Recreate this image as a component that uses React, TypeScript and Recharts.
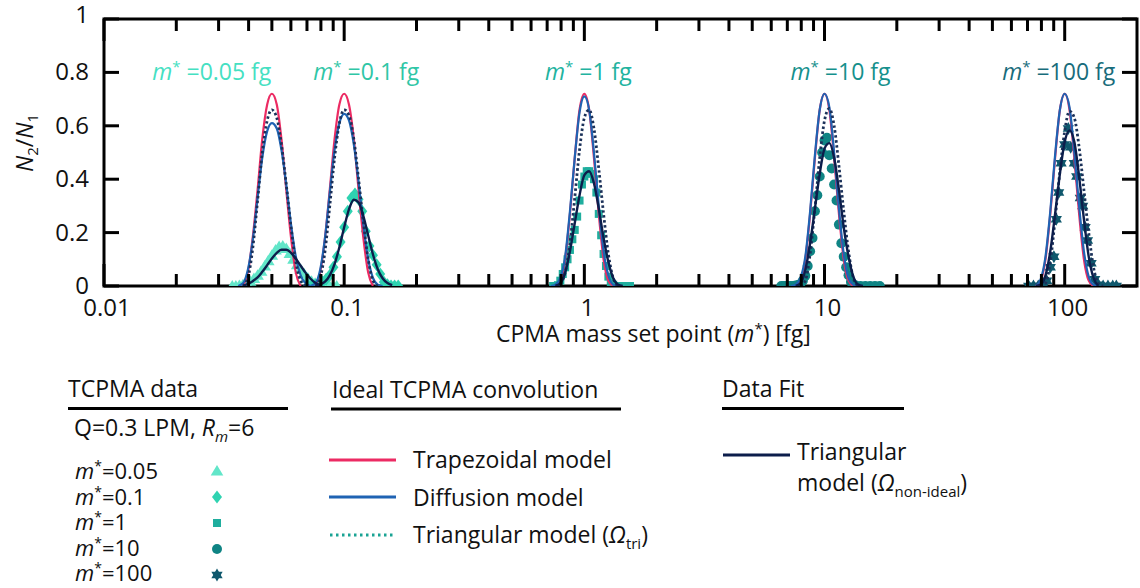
import React from 'react';
import { ComposedChart, Line, Scatter, XAxis, YAxis, ReferenceArea, ReferenceDot } from 'recharts';

const FONT = '"Open Sans", "Noto Sans", "DejaVu Sans", sans-serif';
const FS = 23;
const PLOT = { left: 104, right: 1137, top: 19, bottom: 286 };
const CHART_H = 350;

// ---------- axes ----------
const X_MAJOR = [0.01, 0.1, 1, 10, 100];
const X_MAJOR_LABELS = ['0.01', '0.1', '1', '10', '100'];
const X_MINOR = [0.02, 0.03, 0.04, 0.05, 0.06, 0.07, 0.08, 0.09, 0.2, 0.3, 0.4, 0.5, 0.6, 0.7, 0.8, 0.9, 2, 3, 4, 5, 6, 7, 8, 9, 20, 30, 40, 50, 60, 70, 80, 90];
const X_TICKS = [...X_MAJOR, ...X_MINOR].sort((a, b) => a - b);
const Y_TICKS = [0, 0.2, 0.4, 0.6, 0.8, 1];
const Y_TICK_LABELS = ['0', '0.2', '0.4', '0.6', '0.8', '1'];

// ---------- model curves (x grids per set point) ----------
const GRID_005 = [0.0346, 0.0362, 0.0379, 0.0397, 0.0416, 0.0436, 0.0456, 0.0478, 0.05, 0.0524, 0.0548, 0.0574, 0.0601, 0.0629, 0.0659, 0.069, 0.0723, 0.0757, 0.0792];
const GRID_01 = [0.0692, 0.0724, 0.0759, 0.0794, 0.0832, 0.0871, 0.0912, 0.0955, 0.1, 0.1047, 0.1097, 0.1148, 0.1202, 0.1259, 0.1318, 0.138, 0.1445, 0.1514, 0.1585];
const GRID_1 = [0.6918, 0.7244, 0.7586, 0.7943, 0.8318, 0.871, 0.912, 0.955, 1, 1.0471, 1.0965, 1.1482, 1.2023, 1.2589, 1.3183, 1.3804, 1.4454, 1.5136, 1.5849];
const GRID_10 = [6.918, 7.244, 7.586, 7.943, 8.318, 8.71, 9.12, 9.55, 10, 10.471, 10.965, 11.482, 12.023, 12.589, 13.183, 13.804, 14.454, 15.136, 15.849];
const GRID_100 = [69.18, 72.44, 75.86, 79.43, 83.18, 87.1, 91.2, 95.5, 100, 104.71, 109.65, 114.82, 120.23, 125.89, 131.83, 138.04, 144.54, 151.36, 158.49];

const TRAP_005 = [null, null, 0, 0.05, 0.18, 0.36, 0.55, 0.68, 0.72, 0.68, 0.55, 0.36, 0.18, 0.05, 0, null, null, null, null];
const DIFF_005 = [null, 0, 0.01, 0.06, 0.17, 0.33, 0.48, 0.58, 0.61, 0.59, 0.51, 0.38, 0.23, 0.11, 0.04, 0.01, 0, null, null];
const TRI_005 = [null, null, 0, 0.03, 0.14, 0.32, 0.5, 0.62, 0.66, 0.63, 0.53, 0.38, 0.22, 0.09, 0.02, 0, null, null, null];
const FIT_005 = [null, null, 0, 0.008, 0.018, 0.032, 0.053, 0.078, 0.103, 0.124, 0.136, 0.136, 0.124, 0.102, 0.076, 0.05, 0.028, 0.012, 0.004];

const TRAP_01 = [null, null, 0, 0.05, 0.18, 0.36, 0.55, 0.68, 0.72, 0.68, 0.55, 0.36, 0.18, 0.05, 0, null, null, null, null];
const DIFF_01 = [null, 0, 0.01, 0.06, 0.18, 0.35, 0.51, 0.61, 0.645, 0.62, 0.53, 0.39, 0.23, 0.1, 0.03, 0.005, 0, null, null];
const TRI_01 = [null, null, 0, 0.03, 0.13, 0.3, 0.48, 0.61, 0.66, 0.64, 0.55, 0.4, 0.24, 0.1, 0.02, 0, null, null, null];
const FIT_01 = [null, null, 0, 0.005, 0.016, 0.04, 0.082, 0.145, 0.22, 0.287, 0.323, 0.313, 0.262, 0.189, 0.118, 0.063, 0.029, 0.011, 0.003];

const TRAP_1 = [null, null, 0, 0.02, 0.1, 0.27, 0.48, 0.66, 0.72, 0.66, 0.48, 0.27, 0.1, 0.02, 0, null, null, null, null];
const DIFF_1 = [null, 0, 0.005, 0.03, 0.11, 0.28, 0.48, 0.65, 0.71, 0.66, 0.5, 0.3, 0.13, 0.04, 0.005, 0, null, null, null];
const TRI_1 = [null, null, 0, 0.01, 0.05, 0.16, 0.33, 0.51, 0.63, 0.66, 0.59, 0.44, 0.27, 0.12, 0.03, 0, null, null, null];
const FIT_1 = [null, null, 0, 0.01, 0.05, 0.13, 0.235, 0.34, 0.415, 0.43, 0.385, 0.29, 0.18, 0.09, 0.03, 0.005, 0, null, null];

const TRAP_10 = [null, null, 0, 0.02, 0.1, 0.27, 0.48, 0.66, 0.72, 0.66, 0.48, 0.27, 0.1, 0.02, 0, null, null, null, null];
const DIFF_10 = [null, 0, 0.005, 0.03, 0.11, 0.28, 0.49, 0.66, 0.72, 0.67, 0.5, 0.29, 0.12, 0.03, 0.005, 0, null, null, null];
const TRI_10 = [null, null, null, 0, 0.02, 0.12, 0.29, 0.48, 0.62, 0.665, 0.6, 0.45, 0.28, 0.13, 0.03, 0, null, null, null];
const FIT_10 = [null, null, 0, 0.01, 0.06, 0.16, 0.29, 0.42, 0.515, 0.535, 0.48, 0.36, 0.22, 0.11, 0.035, 0.005, 0, null, null];

const TRAP_100 = [null, null, 0, 0.02, 0.1, 0.27, 0.48, 0.66, 0.72, 0.66, 0.48, 0.27, 0.1, 0.02, 0, null, null, null, null];
const DIFF_100 = [null, null, 0, 0.025, 0.11, 0.28, 0.49, 0.66, 0.72, 0.67, 0.5, 0.3, 0.13, 0.035, 0.005, 0, null, null, null];
const TRI_100 = [null, null, null, 0, 0.01, 0.09, 0.25, 0.43, 0.58, 0.655, 0.63, 0.52, 0.36, 0.2, 0.07, 0.01, 0, null, null];
const FIT_100 = [null, null, 0, 0.005, 0.04, 0.13, 0.27, 0.42, 0.54, 0.583, 0.54, 0.41, 0.25, 0.11, 0.03, 0, null, null, null];

// ---------- TCPMA measured data ----------
const DATA_005_M = [0.0342, 0.0354, 0.0366, 0.0379, 0.0393, 0.0406, 0.0421, 0.0436, 0.0451, 0.0467, 0.0483, 0.05, 0.0518, 0.0536, 0.0555, 0.0574, 0.0594, 0.0615, 0.0637, 0.0659, 0.0682, 0.0706, 0.0731, 0.0757, 0.0783, 0.0811, 0.0839, 0.0869, 0.0899, 0.0931];
const DATA_005_N = [0, 0, 0.002, 0.005, 0.01, 0.018, 0.028, 0.04, 0.055, 0.075, 0.095, 0.115, 0.135, 0.148, 0.15, 0.14, 0.122, 0.1, 0.08, 0.062, 0.045, 0.03, 0.018, 0.01, 0.005, 0.002, 0, 0, 0, 0];

const DATA_01_M = [0.0708, 0.0733, 0.0759, 0.0785, 0.0813, 0.0841, 0.0871, 0.0902, 0.0933, 0.0966, 0.1, 0.1035, 0.1072, 0.1109, 0.1148, 0.1189, 0.123, 0.1274, 0.1318, 0.1365, 0.1413, 0.1462, 0.1514, 0.1567, 0.1622, 0.1679];
const DATA_01_N = [0, 0, 0.003, 0.008, 0.015, 0.025, 0.04, 0.07, 0.11, 0.165, 0.22, 0.28, 0.33, 0.345, 0.325, 0.28, 0.205, 0.15, 0.115, 0.08, 0.045, 0.015, 0.005, 0, 0, 0];

const DATA_1_M = [0.7413, 0.7586, 0.7762, 0.7943, 0.8128, 0.8318, 0.8511, 0.871, 0.8913, 0.912, 0.9333, 0.955, 0.9772, 1, 1.0233, 1.0471, 1.0715, 1.0965, 1.122, 1.1482, 1.1749, 1.2023, 1.2303, 1.2589, 1.2882, 1.3183, 1.349, 1.4125, 1.4791, 1.5488];
const DATA_1_N = [0, 0, 0.003, 0.02, 0.045, 0.07, 0.1, 0.135, 0.175, 0.21, 0.26, 0.32, 0.38, 0.41, 0.43, 0.43, 0.42, 0.4, 0.35, 0.27, 0.19, 0.12, 0.075, 0.035, 0.015, 0.005, 0, 0, 0, 0];

const DATA_10_M = [6.607, 6.761, 6.918, 7.079, 7.244, 7.413, 7.586, 7.762, 7.943, 8.128, 8.318, 8.511, 8.71, 8.913, 9.12, 9.333, 9.55, 9.772, 10, 10.233, 10.471, 10.715, 10.965, 11.22, 11.482, 11.749, 12.023, 12.303, 12.589, 12.882, 13.183, 13.49, 14.125, 14.791, 15.488, 16.218, 16.982];
const DATA_10_N = [0, 0, 0, 0, 0, 0, 0.002, 0.004, 0.008, 0.02, 0.038, 0.075, 0.13, 0.18, 0.28, 0.34, 0.41, 0.5, 0.545, 0.555, 0.49, 0.44, 0.38, 0.32, 0.23, 0.16, 0.11, 0.07, 0.04, 0.015, 0.006, 0.002, 0, 0, 0, 0, 0];

const DATA_100_M = [70.79, 74.13, 77.62, 81.28, 84.14, 87.1, 90.16, 92.26, 94.41, 96.61, 100, 103.51, 105.93, 109.65, 112.2, 116.14, 118.85, 121.62, 124.45, 128.82, 133.35, 138.04, 144.54, 151.36, 158.49, 164.06];
const DATA_100_N = [0, 0, 0, 0.003, 0.02, 0.07, 0.11, 0.25, 0.35, 0.46, 0.53, 0.59, 0.52, 0.46, 0.41, 0.33, 0.3, 0.22, 0.17, 0.085, 0.025, 0.005, 0, 0, 0, 0];

// ---------- annotations ----------
const SET_POINTS = ['0.05', '0.1', '1', '10', '100'];
const ANNOT_M = [0.0281, 0.1236, 1.04, 11.66, 94.4];
const ANNOT_N = 0.8;

// ---------- colours ----------
const PINK = '#ec2b63';
const BLUE = '#1f63b3';
const TRI_C = '#1b3159';
const FIT_C = '#0c1d4b';
const TRI_LEGEND = '#1aa394';
const MARKER_COLORS = ['#62e6c9', '#2fd3b1', '#1fae9e', '#0f8484', '#0f586d'];
const LABEL_COLORS = ['#45e0c2', '#2fc6a6', '#22b39f', '#15908c', '#186c7b'];
const SHAPES = ['triangle', 'diamond', 'square', 'circle', 'star'];

const zip = (xs: number[], ys: (number | null)[]) =>
  xs.map((m, i) => ({ m, v: ys[i] })).filter((p) => p.v !== null && p.v !== undefined);

const PEAKS = [
  { grid: GRID_005, trap: TRAP_005, diff: DIFF_005, tri: TRI_005, fit: FIT_005 },
  { grid: GRID_01, trap: TRAP_01, diff: DIFF_01, tri: TRI_01, fit: FIT_01 },
  { grid: GRID_1, trap: TRAP_1, diff: DIFF_1, tri: TRI_1, fit: FIT_1 },
  { grid: GRID_10, trap: TRAP_10, diff: DIFF_10, tri: TRI_10, fit: FIT_10 },
  { grid: GRID_100, trap: TRAP_100, diff: DIFF_100, tri: TRI_100, fit: FIT_100 },
];
const DATASETS = [
  zip(DATA_005_M, DATA_005_N),
  zip(DATA_01_M, DATA_01_N),
  zip(DATA_1_M, DATA_1_N),
  zip(DATA_10_M, DATA_10_N),
  zip(DATA_100_M, DATA_100_N),
];

function Marker({ kind, cx, cy, color, s = 1 }: any) {
  if (kind === 'triangle') {
    return <polygon points={`${cx},${cy - 6 * s} ${cx + 6.3 * s},${cy + 4.5 * s} ${cx - 6.3 * s},${cy + 4.5 * s}`} fill={color} />;
  }
  if (kind === 'diamond') {
    return <polygon points={`${cx},${cy - 6.5 * s} ${cx + 5 * s},${cy} ${cx},${cy + 6.5 * s} ${cx - 5 * s},${cy}`} fill={color} />;
  }
  if (kind === 'square') {
    return <rect x={cx - 4 * s} y={cy - 4 * s} width={8 * s} height={8 * s} fill={color} />;
  }
  if (kind === 'circle') {
    return <circle cx={cx} cy={cy} r={5 * s} fill={color} />;
  }
  const r = 6.5 * s;
  const a = 0.866 * r;
  return (
    <g fill={color}>
      <polygon points={`${cx},${cy - r} ${cx + a},${cy + r / 2} ${cx - a},${cy + r / 2}`} />
      <polygon points={`${cx},${cy + r} ${cx + a},${cy - r / 2} ${cx - a},${cy - r / 2}`} />
    </g>
  );
}

function XTick(props: any) {
  const { x, payload } = props;
  const v = payload.value;
  const idx = X_MAJOR.findIndex((t) => Math.abs(t - v) / t < 1e-6);
  const major = idx >= 0;
  const len = major ? 22 : 12;
  return (
    <g>
      <line x1={x} x2={x} y1={PLOT.bottom} y2={PLOT.bottom - len} stroke="#000" strokeWidth={3} />
      <line x1={x} x2={x} y1={PLOT.top} y2={PLOT.top + len} stroke="#000" strokeWidth={3} />
      {major && (
        <text x={x + 3} y={PLOT.bottom + 30} textAnchor="middle" fontSize={24} fontFamily={FONT} fill="#111">
          {X_MAJOR_LABELS[idx]}
        </text>
      )}
    </g>
  );
}

function YTick(props: any) {
  const { y, payload } = props;
  const idx = Y_TICKS.findIndex((t) => Math.abs(t - payload.value) < 1e-9);
  return (
    <g>
      <line x1={PLOT.left} x2={PLOT.left + 15} y1={y} y2={y} stroke="#000" strokeWidth={3} />
      <line x1={PLOT.right} x2={PLOT.right - 15} y1={y} y2={y} stroke="#000" strokeWidth={3} />
      <text x={PLOT.left - 15} y={idx === 5 ? y + 4 : y + 8} textAnchor="end" fontSize={24} fontFamily={FONT} fill="#111">
        {Y_TICK_LABELS[idx]}
      </text>
    </g>
  );
}

function YTitle() {
  return (
    <text transform="translate(33,143) rotate(-90)" textAnchor="middle" fontSize={FS} fontFamily={FONT} fill="#111">
      <tspan fontStyle="italic">N</tspan>
      <tspan fontSize={15} dy={5}>2</tspan>
      <tspan dy={-5}>/</tspan>
      <tspan fontStyle="italic">N</tspan>
      <tspan fontSize={15} dy={5}>1</tspan>
    </text>
  );
}

function XTitle() {
  return (
    <text x={496} y={342} textAnchor="start" fontSize={FS} fontFamily={FONT} fill="#111">
      <tspan>CPMA mass set point (</tspan>
      <tspan fontStyle="italic">m</tspan>
      <tspan fontSize={15} dy={-8}>*</tspan>
      <tspan dy={8}>) [fg]</tspan>
    </text>
  );
}

function LegendSvg() {
  const t: any = { fontFamily: FONT, fontSize: FS, fill: '#111' };
  const t2: any = { fontFamily: FONT, fontSize: 22, fill: '#111' };
  return (
    <svg width={1140} height={588} style={{ position: 'absolute', left: 0, top: 0, pointerEvents: 'none' }}>
      {/* TCPMA data */}
      <text x={68} y={397} {...t}>TCPMA data</text>
      <line x1={68} x2={288} y1={408.5} y2={408.5} stroke="#000" strokeWidth={3} />
      <text x={74} y={436} {...t}>
        <tspan>Q=0.3 LPM, </tspan>
        <tspan fontStyle="italic">R</tspan>
        <tspan fontStyle="italic" fontSize={15} dy={6}>m</tspan>
        <tspan dy={-6}>=6</tspan>
      </text>
      {SET_POINTS.map((sp, i) => (
        <g key={sp}>
          <text x={75} y={479 + i * 25.6} {...t2}>
            <tspan fontStyle="italic">m</tspan>
            <tspan fontSize={14} dy={-8}>*</tspan>
            <tspan dy={8}>={sp}</tspan>
          </text>
          <Marker kind={SHAPES[i]} cx={217} cy={471 + i * 26} color={MARKER_COLORS[i]} />
        </g>
      ))}

      {/* Ideal TCPMA convolution */}
      <text x={332} y={398} {...t}>Ideal TCPMA convolution</text>
      <line x1={331} x2={621} y1={409} y2={409} stroke="#000" strokeWidth={3} />
      <line x1={329} x2={396} y1={460} y2={460} stroke={PINK} strokeWidth={3} />
      <text x={413} y={468} {...t}>Trapezoidal model</text>
      <line x1={329} x2={396} y1={497} y2={497} stroke={BLUE} strokeWidth={3} />
      <text x={413} y={506} {...t}>Diffusion model</text>
      <line x1={330} x2={394} y1={535} y2={535} stroke={TRI_LEGEND} strokeWidth={3} strokeDasharray="2.5 3.5" />
      <text x={413} y={543} {...t}>
        <tspan>Triangular model (</tspan>
        <tspan fontStyle="italic">Ω</tspan>
        <tspan fontSize={15} dy={6}>tri</tspan>
        <tspan dy={-6}>)</tspan>
      </text>

      {/* Data Fit */}
      <text x={722} y={397} {...t}>Data Fit</text>
      <line x1={722} x2={904} y1={408.5} y2={408.5} stroke="#000" strokeWidth={3} />
      <line x1={723} x2={790} y1={455} y2={455} stroke={FIT_C} strokeWidth={3} />
      <text x={797} y={460} {...t}>Triangular</text>
      <text x={797} y={491} {...t}>
        <tspan>model (</tspan>
        <tspan fontStyle="italic">Ω</tspan>
        <tspan fontSize={15} dy={6}>non-ideal</tspan>
        <tspan dy={-6}>)</tspan>
      </text>
    </svg>
  );
}

export default function App() {
  return (
    <div style={{ position: 'absolute', left: 0, top: 0, width: 1140, height: 588, background: '#fff', fontFamily: FONT }}>
      <ComposedChart
        width={1140}
        height={CHART_H}
        margin={{ top: PLOT.top, right: 1140 - PLOT.right, bottom: 0, left: 0 }}
      >
        <XAxis
          dataKey="m"
          type="number"
          scale="log"
          domain={[0.01, 200]}
          allowDataOverflow
          ticks={X_TICKS}
          interval={0}
          tickSize={0}
          tickMargin={0}
          axisLine={false}
          tickLine={false}
          height={CHART_H - PLOT.bottom}
          tick={<XTick />}
          label={<XTitle />}
        />
        <YAxis
          type="number"
          domain={[0, 1]}
          allowDataOverflow
          ticks={Y_TICKS}
          interval={0}
          tickSize={0}
          tickMargin={0}
          axisLine={false}
          tickLine={false}
          width={PLOT.left}
          tick={<YTick />}
          label={<YTitle />}
        />
        <ReferenceArea x1={0.01} x2={200} y1={0} y2={1} fill="none" fillOpacity={0} stroke="#000" strokeWidth={3} ifOverflow="visible" />
        {DATASETS.map((d, i) => (
          <Scatter
            key={`s${i}`}
            data={d}
            dataKey="v"
            isAnimationActive={false}
            zIndex={350}
            shape={(p: any) => <Marker kind={SHAPES[i]} cx={p.cx} cy={p.cy} color={MARKER_COLORS[i]} />}
          />
        ))}
        {PEAKS.map((pk, i) => (
          <Line key={`t${i}`} data={zip(pk.grid, pk.trap)} dataKey="v" type="monotone" stroke={PINK} strokeWidth={2.2} dot={false} isAnimationActive={false} />
        ))}
        {PEAKS.map((pk, i) => (
          <Line key={`d${i}`} data={zip(pk.grid, pk.diff)} dataKey="v" type="monotone" stroke={BLUE} strokeWidth={2.2} dot={false} isAnimationActive={false} />
        ))}
        {PEAKS.map((pk, i) => (
          <Line key={`r${i}`} data={zip(pk.grid, pk.tri)} dataKey="v" type="monotone" stroke={TRI_C} strokeWidth={2.8} strokeDasharray="2.5 2.5" dot={false} isAnimationActive={false} />
        ))}
        {PEAKS.map((pk, i) => (
          <Line key={`f${i}`} data={zip(pk.grid, pk.fit)} dataKey="v" type="monotone" stroke={FIT_C} strokeWidth={2.4} dot={false} isAnimationActive={false} />
        ))}
        {SET_POINTS.map((sp, i) => (
          <ReferenceDot
            key={`a${i}`}
            x={ANNOT_M[i]}
            y={ANNOT_N}
            r={0}
            ifOverflow="visible"
            shape={(p: any) => (
              <text x={p.cx} y={p.cy + 8} textAnchor="middle" fontSize={FS} fontFamily={FONT} fill={LABEL_COLORS[i]}>
                <tspan fontStyle="italic">m</tspan>
                <tspan fontSize={15} dy={-8}>*</tspan>
                <tspan dy={8}>{` =${sp} fg`}</tspan>
              </text>
            )}
          />
        ))}
      </ComposedChart>
      <LegendSvg />
    </div>
  );
}
